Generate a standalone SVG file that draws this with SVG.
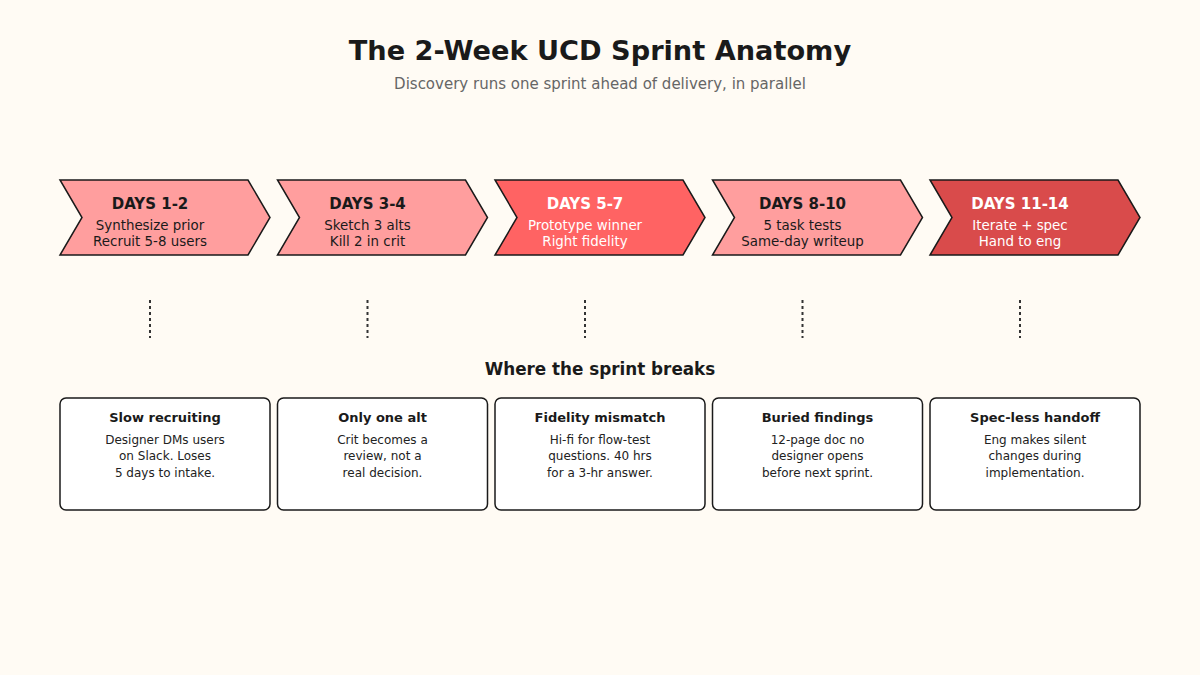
<svg xmlns="http://www.w3.org/2000/svg" width="1200" height="675" viewBox="0 0 1200 675">
<style>
text{font-family:"DejaVu Sans","Liberation Sans",sans-serif;text-anchor:middle}
.title{font-size:27.2px;font-weight:bold;fill:#1a1a1a}
.sub{font-size:15px;fill:#666}
.chev{stroke:#1a1a1a;stroke-width:1.5;stroke-linejoin:miter}
.light{fill:#ff9e9e}
.mid{fill:#ff6363}
.dark{fill:#d94b4b}
.dl{font-size:15px;font-weight:bold;fill:#1a1a1a}
.dt{font-size:13.4px;fill:#1a1a1a}
.w{fill:#ffffff}
.sec{font-size:16.8px;font-weight:bold;fill:#1a1a1a}
.box{fill:#ffffff;stroke:#1a1a1a;stroke-width:1.5}
.bt{font-size:13px;font-weight:bold;fill:#1a1a1a}
.bb{font-size:12px;fill:#222}
.dot{stroke:#333;stroke-width:2;stroke-dasharray:3 3;fill:none}
</style>
<rect width="1200" height="675" fill="#fffbf4"/>
<text class="title" x="600" y="60">The 2-Week UCD Sprint Anatomy</text>
<text class="sub" x="600" y="89">Discovery runs one sprint ahead of delivery, in parallel</text>

<g id="phase1">
<polygon class="chev light" points="60,180 248,180 270,217.5 248,255 60,255 82,217.5"/>
<text class="dl" x="150" y="209">DAYS 1-2</text>
<text class="dt" x="150" y="230">Synthesize prior</text>
<text class="dt" x="150" y="246">Recruit 5-8 users</text>
</g>
<g id="phase2">
<polygon class="chev light" points="277.5,180 465.5,180 487.5,217.5 465.5,255 277.5,255 299.5,217.5"/>
<text class="dl" x="367.5" y="209">DAYS 3-4</text>
<text class="dt" x="367.5" y="230">Sketch 3 alts</text>
<text class="dt" x="367.5" y="246">Kill 2 in crit</text>
</g>
<g id="phase3">
<polygon class="chev mid" points="495,180 683,180 705,217.5 683,255 495,255 517,217.5"/>
<text class="dl w" x="585" y="209">DAYS 5-7</text>
<text class="dt w" x="585" y="230">Prototype winner</text>
<text class="dt w" x="585" y="246">Right fidelity</text>
</g>
<g id="phase4">
<polygon class="chev light" points="712.5,180 900.5,180 922.5,217.5 900.5,255 712.5,255 734.5,217.5"/>
<text class="dl" x="802.5" y="209">DAYS 8-10</text>
<text class="dt" x="802.5" y="230">5 task tests</text>
<text class="dt" x="802.5" y="246">Same-day writeup</text>
</g>
<g id="phase5">
<polygon class="chev dark" points="930,180 1118,180 1140,217.5 1118,255 930,255 952,217.5"/>
<text class="dl w" x="1020" y="209">DAYS 11-14</text>
<text class="dt w" x="1020" y="230">Iterate + spec</text>
<text class="dt w" x="1020" y="246">Hand to eng</text>
</g>

<g id="connectors">
<line class="dot" x1="150" y1="300" x2="150" y2="338"/>
<line class="dot" x1="367.5" y1="300" x2="367.5" y2="338"/>
<line class="dot" x1="585" y1="300" x2="585" y2="338"/>
<line class="dot" x1="802.5" y1="300" x2="802.5" y2="338"/>
<line class="dot" x1="1020" y1="300" x2="1020" y2="338"/>
</g>

<text class="sec" x="600" y="375">Where the sprint breaks</text>

<g id="break1">
<rect class="box" x="60" y="398" width="210" height="112" rx="6"/>
<text class="bt" x="165" y="422">Slow recruiting</text>
<text class="bb" x="165" y="444">Designer DMs users</text>
<text class="bb" x="165" y="460">on Slack. Loses</text>
<text class="bb" x="165" y="477">5 days to intake.</text>
</g>
<g id="break2">
<rect class="box" x="277.5" y="398" width="210" height="112" rx="6"/>
<text class="bt" x="382.5" y="422">Only one alt</text>
<text class="bb" x="382.5" y="444">Crit becomes a</text>
<text class="bb" x="382.5" y="460">review, not a</text>
<text class="bb" x="382.5" y="477">real decision.</text>
</g>
<g id="break3">
<rect class="box" x="495" y="398" width="210" height="112" rx="6"/>
<text class="bt" x="600" y="422">Fidelity mismatch</text>
<text class="bb" x="600" y="444">Hi-fi for flow-test</text>
<text class="bb" x="600" y="460">questions. 40 hrs</text>
<text class="bb" x="600" y="477">for a 3-hr answer.</text>
</g>
<g id="break4">
<rect class="box" x="712.5" y="398" width="210" height="112" rx="6"/>
<text class="bt" x="817.5" y="422">Buried findings</text>
<text class="bb" x="817.5" y="444">12-page doc no</text>
<text class="bb" x="817.5" y="460">designer opens</text>
<text class="bb" x="817.5" y="477">before next sprint.</text>
</g>
<g id="break5">
<rect class="box" x="930" y="398" width="210" height="112" rx="6"/>
<text class="bt" x="1035" y="422">Spec-less handoff</text>
<text class="bb" x="1035" y="444">Eng makes silent</text>
<text class="bb" x="1035" y="460">changes during</text>
<text class="bb" x="1035" y="477">implementation.</text>
</g>
</svg>
